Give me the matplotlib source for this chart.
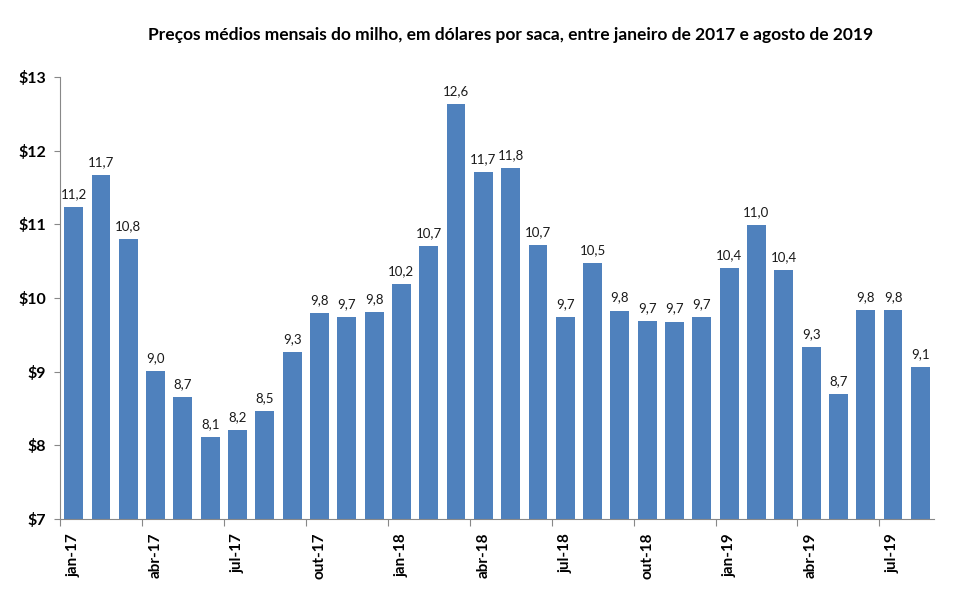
import matplotlib
matplotlib.use("Agg")
import matplotlib.pyplot as plt
import numpy as np

months = ["jan-17", "fev-17", "mar-17", "abr-17", "mai-17", "jun-17", "jul-17", "ago-17",
          "set-17", "out-17", "nov-17", "dez-17", "jan-18", "fev-18", "mar-18", "abr-18",
          "mai-18", "jun-18", "jul-18", "ago-18", "set-18", "out-18", "nov-18", "dez-18",
          "jan-19", "fev-19", "mar-19", "abr-19", "mai-19", "jun-19", "jul-19", "ago-19"]
prices = [11.24, 11.67, 10.80, 9.01, 8.66, 8.11, 8.21, 8.46,
          9.27, 9.79, 9.74, 9.81, 10.19, 10.71, 12.63, 11.71,
          11.76, 10.72, 9.74, 10.48, 9.83, 9.69, 9.68, 9.74,
          10.41, 10.99, 10.38, 9.34, 8.70, 9.84, 9.84, 9.06]
yticks = [7, 8, 9, 10, 11, 12, 13]
title = "Preços médios mensais do milho, em dólares por saca, entre janeiro de 2017 e agosto de 2019"

plt.rcParams['font.family'] = ['Lato', 'DejaVu Sans']

fig = plt.figure(figsize=(9.61, 5.92), dpi=100)
ax = fig.add_axes([60/961, 1-519/592, (934-60)/961, (519-77)/592])

x = np.arange(len(prices))
bars = ax.bar(x, prices, width=0.69, color="#4F81BD", bottom=0)
ax.set_ylim(7, 13)
ax.set_xlim(-0.5, len(prices)-0.5)

for xi, v in zip(x, prices):
    ax.annotate(f"{v:.1f}".replace(".", ","), (xi, v), xytext=(0, 5), textcoords="offset points",
                ha="center", va="bottom", fontsize=9.5, color="#1a1a1a")

ax.set_yticks(yticks)
ax.set_yticklabels([f"${t}" for t in yticks], fontweight="bold", fontsize=11.5)
ax.tick_params(axis="y", direction="out", length=4, color="#888888", pad=6)

ax.set_xticks(np.arange(-0.5, len(prices), 3))
ax.set_xticklabels([])
ax.tick_params(axis="x", which="major", direction="out", length=5, color="#888888")
ax.set_xticks(np.arange(0, len(prices), 3), minor=True)
ax.set_xticklabels([months[i] for i in range(0, len(prices), 3)], minor=True,
                   rotation=90, fontweight="bold", fontsize=11)
ax.tick_params(axis="x", which="minor", length=0, pad=10)

for s in ["top", "right"]:
    ax.spines[s].set_visible(False)
for s in ["left", "bottom"]:
    ax.spines[s].set_color("#888888")

fig.text(511/961, 1-35/592, title, ha="center", va="center", fontsize=12.5, fontweight="bold")

fig.savefig("out.png", dpi=100)
